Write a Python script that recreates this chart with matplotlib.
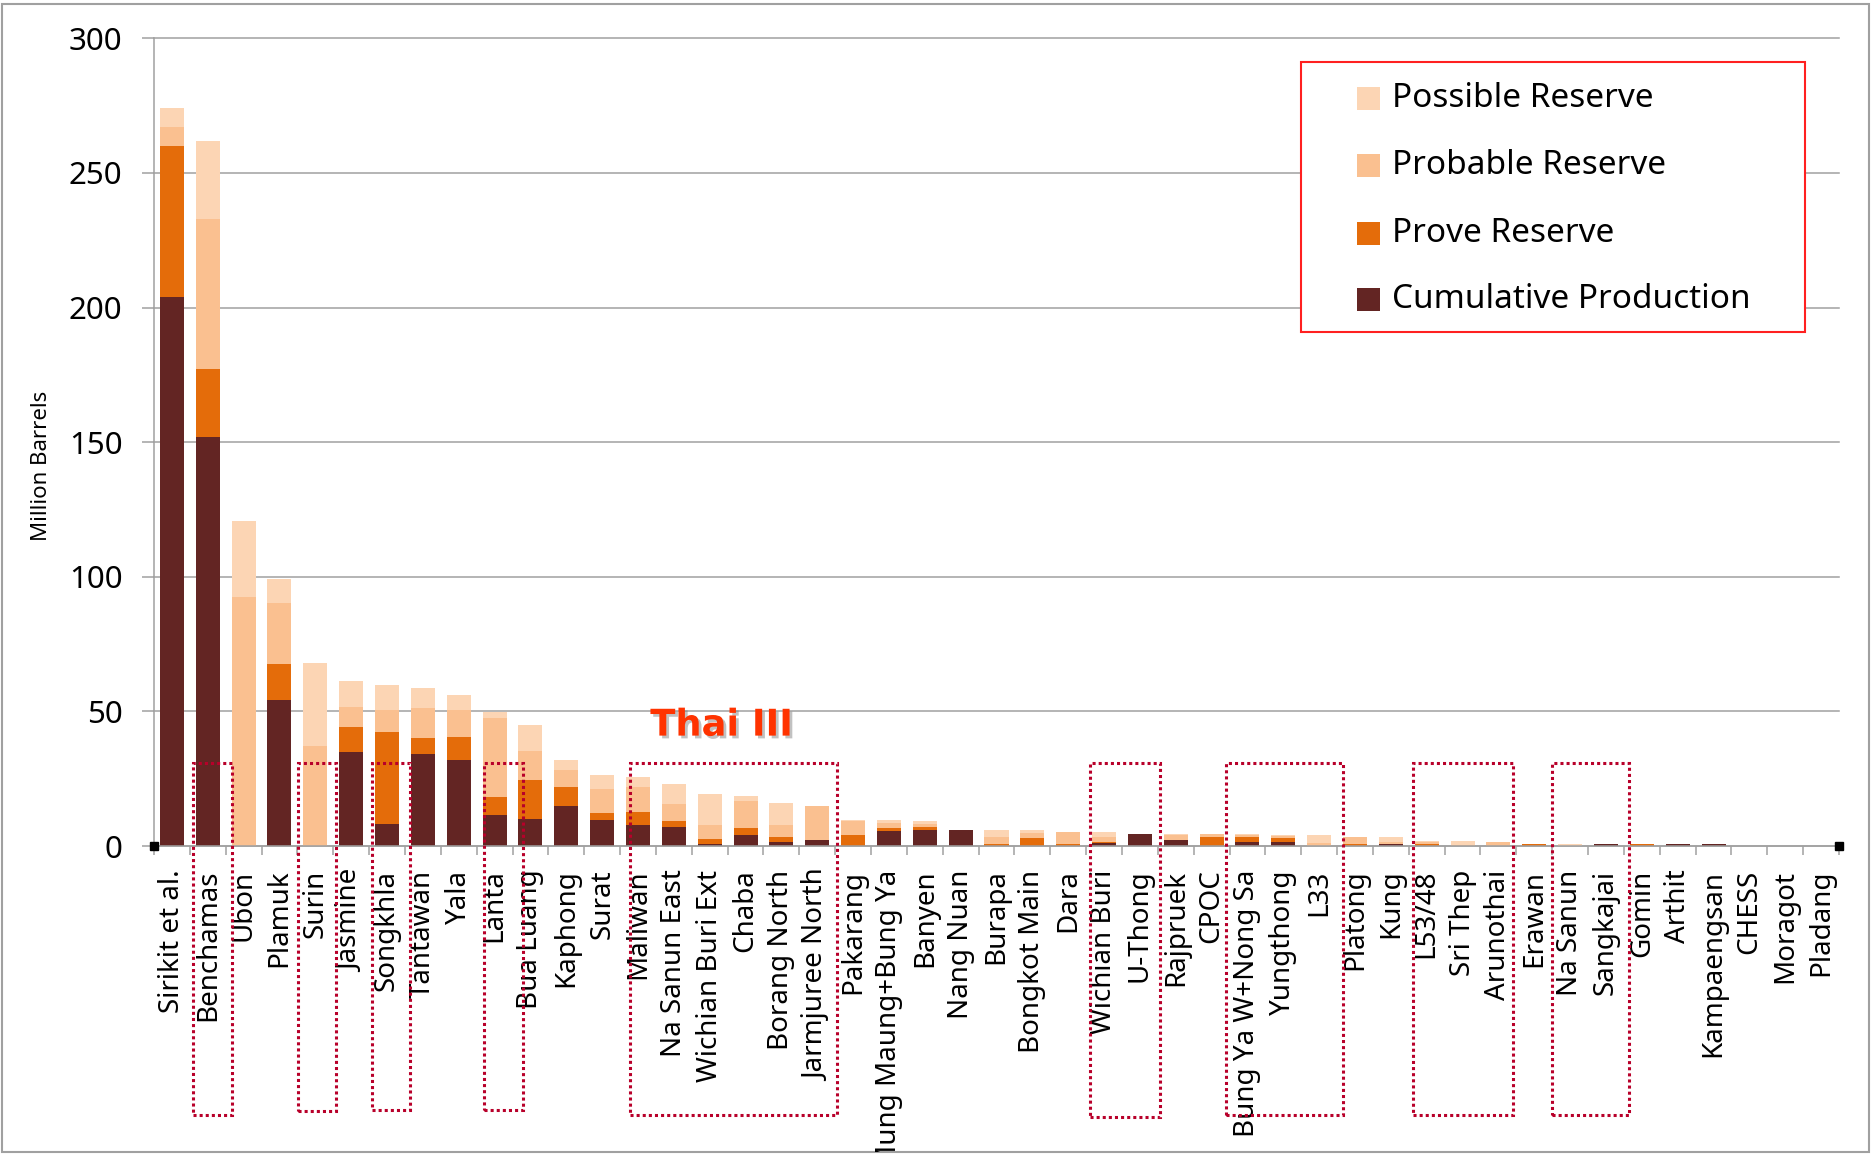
import matplotlib
matplotlib.use('Agg')
import matplotlib.pyplot as plt
import matplotlib.patheffects as pe
from matplotlib.patches import Rectangle
from matplotlib.transforms import Bbox, TransformedBbox
import numpy as np

plt.rcParams['font.family'] = ['Noto Sans', 'DejaVu Sans']

fields = ['Sirikit et al.', 'Benchamas', 'Ubon', 'Plamuk', 'Surin', 'Jasmine', 'Songkhla',
          'Tantawan', 'Yala', 'Lanta', 'Bua Luang', 'Kaphong', 'Surat', 'Maliwan',
          'Na Sanun East', 'Wichian Buri Ext', 'Chaba', 'Borang North', 'Jarmjuree North',
          'Pakarang', 'Mung Maung+Bung Ya', 'Banyen', 'Nang Nuan', 'Burapa', 'Bongkot Main',
          'Dara', 'Wichian Buri', 'U-Thong', 'Rajpruek', 'CPOC', 'Bung Ya W+Nong Sa',
          'Yungthong', 'L33', 'Platong', 'Kung', 'L53/48', 'Sri Thep', 'Arunothai', 'Erawan',
          'Na Sanun', 'Sangkajai', 'Gomin', 'Arthit', 'Kampaengsan', 'CHESS', 'Moragot', 'Pladang']

cumulative = [204, 152, 0, 54.4, 0, 34.9, 8.0, 34.1, 31.8, 11.5, 10.0, 14.7, 9.7, 7.7,
              7.1, 0.9, 4.0, 1.5, 2.1, 0, 5.4, 5.9, 6.0, 0, 0, 0, 1.2, 4.6, 2.1, 0, 1.5,
              1.5, 0, 0, 0.8, 0, 0, 0, 0, 0, 0.9, 0, 0.9, 0.9, 0, 0, 0]
prove = [56, 25, 0, 13.3, 0, 9.3, 34.3, 6.0, 8.5, 6.7, 14.6, 7.1, 2.6, 5.1,
         2.0, 1.8, 2.5, 1.9, 0, 4.0, 1.1, 1.1, 0, 0.9, 2.9, 0.9, 0.3, 0, 0, 3.4, 1.9,
         1.4, 0, 0.9, 0, 0.9, 0, 0, 0.9, 0, 0, 0.9, 0, 0, 0, 0, 0]
probable = [7, 56, 92.3, 22.6, 37.2, 7.6, 8.1, 11.2, 10.1, 29.2, 10.8, 6.3, 8.9, 9.1,
            6.4, 5.2, 10.3, 4.5, 12.7, 5.4, 1.9, 1.0, 0, 2.5, 2.0, 4.4, 1.9, 0, 2.0, 1.2, 0.5,
            0.7, 1.2, 2.5, 0.5, 0.6, 0.5, 1.4, 0, 0, 0, 0, 0, 0, 0, 0, 0]
possible = [7, 29, 28.3, 8.8, 30.9, 9.5, 9.5, 7.3, 5.6, 2.4, 9.5, 3.8, 5.1, 3.7,
            7.6, 11.4, 1.8, 8.2, 0, 0.3, 1.3, 1.1, 0, 2.6, 0.9, 0, 1.9, 0, 0.5, 0, 0.7,
            0.4, 2.8, 0, 2.1, 0.5, 1.5, 0, 0, 0.7, 0, 0, 0, 0, 0, 0, 0]

series_names = ['Cumulative Production', 'Prove Reserve', 'Probable Reserve', 'Possible Reserve']
series_colors = ['#632523', '#E46C0A', '#FAC090', '#FCD5B4']

yticks = [0, 50, 100, 150, 200, 250, 300]

# highlighted groups (dotted boxes): x-span in category units and bottom in data units
highlight_boxes = [(0.59, 1.67, -100), (3.51, 4.58, -98.5), (5.59, 6.64, -98),
                   (8.71, 9.78, -98), (12.77, 18.54, -100), (25.61, 27.57, -100.6),
                   (29.41, 32.67, -100), (34.63, 37.42, -100), (38.5, 40.64, -100)]
highlight_top = 31

W, H = 1874, 1160
fig = plt.figure(figsize=(W / 100, H / 100), dpi=100)
ax = fig.add_axes([154 / W, 1 - 846 / H, (1839 - 154) / W, (846 - 38.3) / H])

grid_c = '#A0A0A0'
x = np.arange(len(fields))
bottom = np.zeros(len(fields))
for vals, c, name in zip([cumulative, prove, probable, possible], series_colors, series_names):
    ax.bar(x, vals, width=0.67, bottom=bottom, color=c, edgecolor='none', zorder=3, label=name)
    bottom += np.array(vals)

ax.set_xlim(-0.5, len(fields) - 0.5)
ax.set_ylim(0, 300)
ax.set_yticks(yticks)
ax.set_yticklabels([str(v) for v in yticks])
ax.yaxis.grid(True, color=grid_c, lw=1.1, zorder=0)
for gl in ax.get_ygridlines():
    gl.set_clip_on(False)
ax.set_axisbelow(True)
for s in ['top', 'right']:
    ax.spines[s].set_visible(False)
for s in ['left', 'bottom']:
    ax.spines[s].set_color(grid_c)
    ax.spines[s].set_linewidth(1.1)
    ax.spines[s].set_zorder(4)
ax.tick_params(axis='y', direction='out', length=8.6, width=1.1, color=grid_c, pad=14,
               labelsize=22.5, labelcolor='black')

ax.set_xticks(x)
ax.set_xticklabels(fields, rotation=90, fontsize=20, va='top', ha='center')
ax.tick_params(axis='x', which='major', length=0, pad=17)
ax.set_xticks(np.arange(-0.5, len(fields)), minor=True)
ax.tick_params(axis='x', which='minor', length=6.5, width=1.1, color=grid_c, direction='out')

# labels are clipped at the chart frame, as in the original chart
frame_clip = TransformedBbox(Bbox.from_extents(0, 8 / H, 1, 1), fig.transFigure)
for lab in ax.get_xticklabels():
    lab.set_clip_on(True)
    lab.set_clip_box(frame_clip)

# axis end markers
ax.plot([-0.5, len(fields) - 0.5], [0, 0], 's', color='black', ms=5.5, clip_on=False, zorder=6)

# dotted highlight boxes
for x0, x1, yb in highlight_boxes:
    ax.add_patch(Rectangle((x0, yb), x1 - x0, highlight_top - yb, fill=False,
                           edgecolor='#B8002A', lw=2.2, linestyle=(0, (1, 1)),
                           clip_on=False, zorder=5))

ax.text(15.33, 44.9, 'Thai III', fontsize=26.5, fontweight='bold', family='DejaVu Sans',
        color='#FF3300', ha='center', va='center', zorder=7,
        path_effects=[pe.withSimplePatchShadow(offset=(2, -2), shadow_rgbFace='#777777', alpha=0.45)])

# y label
fig.text(42 / W, 1 - 466 / H, 'Million Barrels', rotation=90, ha='center', va='center', fontsize=16)

# legend (manual, box with red border)
lx0, ly0, lx1, ly1 = 1301, 62, 1805, 332
fig.add_artist(Rectangle((lx0 / W, 1 - ly1 / H), (lx1 - lx0) / W, (ly1 - ly0) / H,
                         transform=fig.transFigure, facecolor='white', edgecolor='#FF2020',
                         lw=1.5, zorder=10))
entry_y = [98.7, 165, 233, 299]
legend_order = [3, 2, 1, 0]
for yy, idx in zip(entry_y, legend_order):
    fig.add_artist(Rectangle((1357.5 / W, 1 - (yy + 11.5) / H), 23 / W, 23 / H,
                             transform=fig.transFigure, facecolor=series_colors[idx],
                             edgecolor='none', zorder=11))
    fig.text(1392 / W, 1 - yy / H, series_names[idx], ha='left', va='center',
             fontsize=24, zorder=12)

# figure frame
fig.add_artist(Rectangle((2 / W, 1 - 1152 / H), (1869 - 2) / W, (1152 - 4) / H,
                         transform=fig.transFigure, fill=False, edgecolor='#A0A0A0', lw=1.5,
                         zorder=0))

fig.savefig('out.png', dpi=100)
